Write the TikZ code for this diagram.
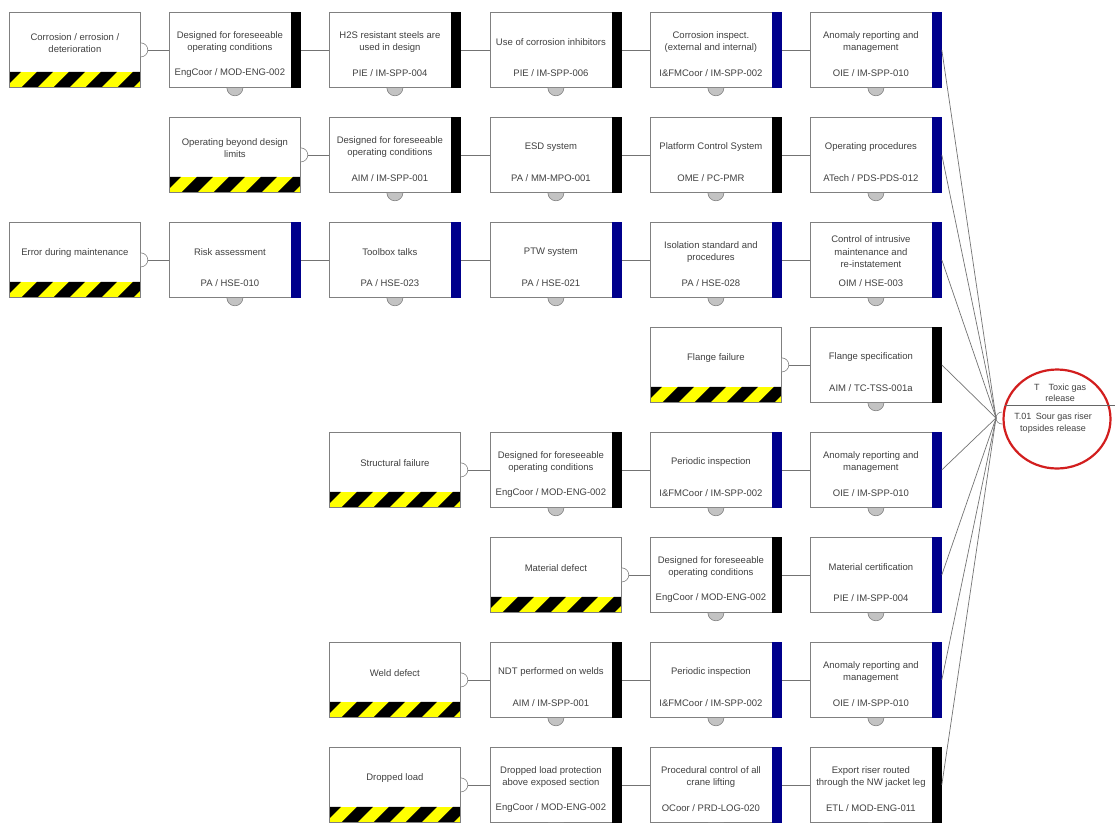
\documentclass[tikz,border=0pt]{standalone}
\usepackage{fontspec}
\setmainfont{Liberation Sans}
\usepackage{tikz}
\usetikzlibrary{shapes.geometric}

\definecolor{boxgray}{RGB}{128,128,128}
\definecolor{knobgray}{RGB}{195,195,195}
\definecolor{barblue}{RGB}{0,0,140}
\definecolor{hazyellow}{RGB}{255,255,0}
\definecolor{topred}{RGB}{210,30,30}

\tikzset{
  box/.style={draw=boxgray, fill=white, line width=0.8pt, minimum width=131pt, minimum height=75pt, inner sep=0pt, anchor=north west},
  boxtext/.style={align=center, font=\fontsize{9.5}{12.5}\selectfont, text=black!75, inner sep=0pt},
  toptext/.style={align=center, font=\fontsize{9}{11.5}\selectfont, text=black!75, inner sep=0pt},
  knob/.style={draw=boxgray, fill=knobgray, line width=0.6pt},
  link/.style={draw=black!55, line width=0.7pt},
}

% barrier: name, x, y, bar colour, title, code
\newcommand{\barrier}[6]{%
  \node[box] (#1) at (#2,-#3) {};
  \fill[#4] ([xshift=-10pt]#1.north east) rectangle (#1.south east);
  \node[boxtext] (#1-t) at ([xshift=-5pt,yshift=-30pt]#1.north) {#5};
  \node[boxtext] (#1-c) at ([xshift=-5pt,yshift=-61pt]#1.north) {#6};
  \draw[knob] ([xshift=-8pt]#1.south) arc[start angle=180, end angle=360, radius=8pt];
}

% threat: name, x, y, text
\newcommand{\threat}[4]{%
  \node[box] (#1) at (#2,-#3) {};
  \begin{scope}
    \clip (#1.south west) rectangle ([yshift=16pt]#1.south east);
    \fill[hazyellow] (#1.south west) rectangle ([yshift=16pt]#1.south east);
    \foreach \s in {0,32,...,160}
      \fill[black] ([xshift={\s*1pt-20pt}]#1.south west) -- ++(16,0) -- ++(16,16) -- ++(-16,0) -- cycle;
  \end{scope}
  \draw[draw=boxgray, line width=0.8pt] (#1.south west) rectangle (#1.north east);
  \node[boxtext] (#1-t) at ([yshift=-31pt]#1.north) {#4};
  \draw[knob, fill=white] ([yshift=7pt]#1.east) arc[start angle=90, end angle=-90, radius=7pt];
  \coordinate (#1-k) at ([xshift=7pt]#1.east);
}

\begin{document}
\begin{tikzpicture}[x=1pt, y=1pt]
  \useasboundingbox (0,0) rectangle (1115,-822);
  \clip (0,0) rectangle (1115,-822);

  % row 1
  \threat{t1}{9}{12}{Corrosion / errosion /\\deterioration}
  \barrier{b11}{169}{12}{black}{Designed for foreseeable\\operating conditions}{EngCoor / MOD-ENG-002}
  \barrier{b12}{329}{12}{black}{H2S resistant steels are\\used in design}{PIE / IM-SPP-004}
  \barrier{b13}{490}{12}{black}{Use of corrosion inhibitors}{PIE / IM-SPP-006}
  \barrier{b14}{650}{12}{barblue}{Corrosion inspect.\\(external and internal)}{I\&FMCoor / IM-SPP-002}
  \barrier{b15}{810}{12}{barblue}{Anomaly reporting and\\management}{OIE / IM-SPP-010}

  % row 2
  \threat{t2}{169}{117}{Operating beyond design\\limits}
  \barrier{b21}{329}{117}{black}{Designed for foreseeable\\operating conditions}{AIM / IM-SPP-001}
  \barrier{b22}{490}{117}{black}{ESD system}{PA / MM-MPO-001}
  \barrier{b23}{650}{117}{black}{Platform Control System}{OME / PC-PMR}
  \barrier{b24}{810}{117}{barblue}{Operating procedures}{ATech / PDS-PDS-012}

  % row 3
  \threat{t3}{9}{222}{Error during maintenance}
  \barrier{b31}{169}{222}{barblue}{Risk assessment}{PA / HSE-010}
  \barrier{b32}{329}{222}{barblue}{Toolbox talks}{PA / HSE-023}
  \barrier{b33}{490}{222}{barblue}{PTW system}{PA / HSE-021}
  \barrier{b34}{650}{222}{barblue}{Isolation standard and\\procedures}{PA / HSE-028}
  \barrier{b35}{810}{222}{barblue}{Control of intrusive\\maintenance and\\re-instatement}{OIM / HSE-003}

  % row 4
  \threat{t4}{650}{327}{Flange failure}
  \barrier{b41}{810}{327}{black}{Flange specification}{AIM / TC-TSS-001a}

  % row 5
  \threat{t5}{329}{432}{Structural failure}
  \barrier{b51}{490}{432}{black}{Designed for foreseeable\\operating conditions}{EngCoor / MOD-ENG-002}
  \barrier{b52}{650}{432}{barblue}{Periodic inspection}{I\&FMCoor / IM-SPP-002}
  \barrier{b53}{810}{432}{barblue}{Anomaly reporting and\\management}{OIE / IM-SPP-010}

  % row 6
  \threat{t6}{490}{537}{Material defect}
  \barrier{b61}{650}{537}{black}{Designed for foreseeable\\operating conditions}{EngCoor / MOD-ENG-002}
  \barrier{b62}{810}{537}{barblue}{Material certification}{PIE / IM-SPP-004}

  % row 7
  \threat{t7}{329}{642}{Weld defect}
  \barrier{b71}{490}{642}{black}{NDT performed on welds}{AIM / IM-SPP-001}
  \barrier{b72}{650}{642}{barblue}{Periodic inspection}{I\&FMCoor / IM-SPP-002}
  \barrier{b73}{810}{642}{barblue}{Anomaly reporting and\\management}{OIE / IM-SPP-010}

  % row 8
  \threat{t8}{329}{747}{Dropped load}
  \barrier{b81}{490}{747}{black}{Dropped load protection\\above exposed section}{EngCoor / MOD-ENG-002}
  \barrier{b82}{650}{747}{barblue}{Procedural control of all\\crane lifting}{OCoor / PRD-LOG-020}
  \barrier{b83}{810}{747}{black}{Export riser routed\\through the NW jacket leg}{ETL / MOD-ENG-011}

  % top event
  \node[draw=topred, line width=2.2pt, ellipse, minimum width=107pt, minimum height=99pt, inner sep=0pt] (top) at (1057,-419) {};
  \draw[draw=black!60, line width=0.6pt] (1005,-405) -- (1115,-405);
  \node[toptext] (top-a) at (1060,-393) {T\quad Toxic gas\\release};
  \node[toptext] (top-b) at (1053,-423) {T.01\enspace Sour gas riser\\topsides release};
  \coordinate (tj) at (996,-418);
  \draw[knob, fill=white] (1002,-412) arc[start angle=90, end angle=270, radius=6pt];

  \path[link]
  (t1-k) edge (b11) (b11) edge (b12) (b12) edge (b13) (b13) edge (b14) (b14) edge (b15)
  (t2-k) edge (b21) (b21) edge (b22) (b22) edge (b23) (b23) edge (b24)
  (t3-k) edge (b31) (b31) edge (b32) (b32) edge (b33) (b33) edge (b34) (b34) edge (b35)
  (t4-k) edge (b41)
  (t5-k) edge (b51) (b51) edge (b52) (b52) edge (b53)
  (t6-k) edge (b61) (b61) edge (b62)
  (t7-k) edge (b71) (b71) edge (b72) (b72) edge (b73)
  (t8-k) edge (b81) (b81) edge (b82) (b82) edge (b83)
  ;
  \path[link]
  (b15.east) edge (tj) (b24.east) edge (tj) (b35.east) edge (tj) (b41.east) edge (tj)
  (b53.east) edge (tj) (b62.east) edge (tj) (b73.east) edge (tj) (b83.east) edge (tj)
  ;
\end{tikzpicture}
\end{document}
